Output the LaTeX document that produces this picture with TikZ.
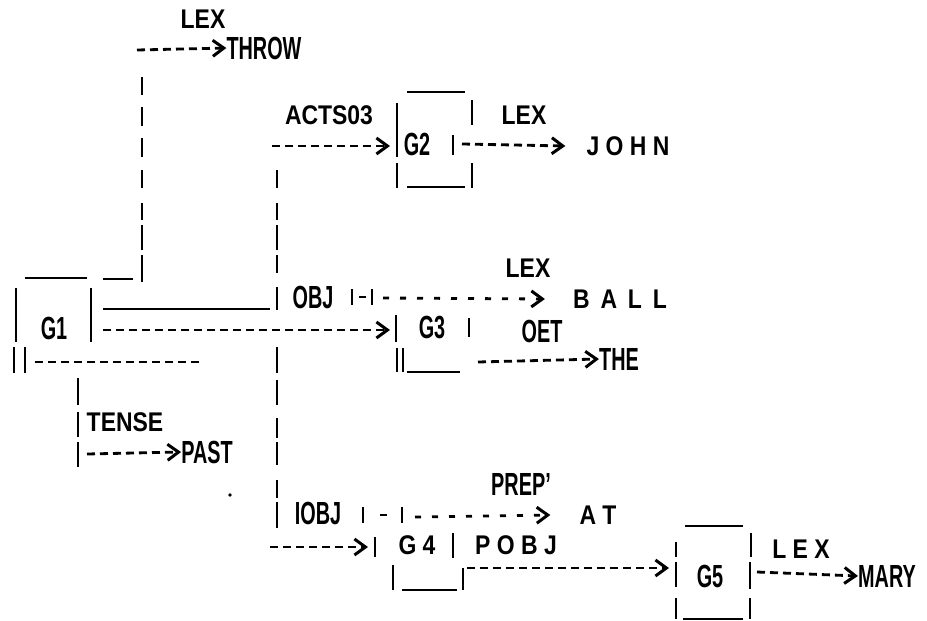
\documentclass[tikz,border=0pt]{standalone}
\usepackage{fontspec}
\setmainfont{Liberation Sans}
\newfontfamily\narrowfont[FakeStretch=0.62]{Liberation Sans Bold}
\newfontfamily\heavyfont[FakeStretch=0.85]{Liberation Sans Bold}
\usetikzlibrary{arrows.meta}

\begin{document}
\begin{tikzpicture}[x=1pt,y=-1pt,
    lbl/.style={inner sep=0pt,font=\fontsize{27}{27}\selectfont\heavyfont},
    nlbl/.style={inner sep=0pt,font=\fontsize{32}{32}\selectfont\narrowfont},
    bar/.style={line width=2.8pt},
    dashline/.style={line width=2.8pt,dash pattern=on 8pt off 5pt},
    gapline/.style={line width=2.8pt,dash pattern=on 6pt off 11pt},
    arr/.style={-{Straight Barb[length=11pt,width=16pt,line width=3pt]}}]
  \useasboundingbox (0,0) rectangle (927,621);

  % labels
  \node[lbl]  (lexA)   at (203,19)  {LEX};
  \node[nlbl] (throw)  at (264,48)  {THROW};
  \node[lbl]  (acts)   at (329,115) {ACTS03};
  \node[nlbl] (gtwo)   at (417,144) {G2};
  \node[lbl]  (lexB)   at (524,115) {LEX};
  \node[lbl]  (john)   at (628,146) {J O H N};
  \node[lbl]  (lexC)   at (528,268) {LEX};
  \node[nlbl] (obj)    at (313,297) {OBJ};
  \node[lbl]  (ball)   at (620,299) {B\, A\, L\, L};
  \node[nlbl] (gone)   at (54,328)  {G1};
  \node[nlbl] (gthree) at (432,328) {G3};
  \node[nlbl] (det)    at (542,331) {OET};
  \node[nlbl] (the)    at (619,359) {THE};
  \node[lbl]  (tense)  at (125,422) {TENSE};
  \node[nlbl] (past)   at (207,452) {PAST};
  \node[nlbl] (prep)   at (521,484) {PREP’};
  \node[nlbl] (iobj)   at (318,513) {IOBJ};
  \node[lbl]  (atw)    at (598,515) {A T};
  \node[lbl]  (gfour)  at (417,545) {G 4};
  \node[lbl]  (pobj)   at (516,545) {P O B J};
  \node[nlbl] (gfive)  at (710,576) {G5};
  \node[lbl]  (lexD)   at (801,549) {L E X};
  \node[nlbl] (mary)   at (887,576) {MARY};

  % G1 box
  \draw[bar] (25,278) -- (87,278);
  \draw[bar] (16,288) -- (16,342);
  \draw[bar] (91,288) -- (91,342);
  \draw[bar] (14,347) -- (14,373);
  \draw[bar] (25,347) -- (25,373);

  % G2 box
  \draw[bar] (407,92) -- (465,92);
  \draw[bar] (397,103) -- (397,157);
  \draw[bar] (397,163) -- (397,188);
  \draw[bar] (472,100) -- (472,125);
  \draw[bar] (472,163) -- (472,188);
  \draw[bar] (407,187) -- (465,187);
  \draw[bar] (453,135) -- (453,155);

  % G3 box
  \draw[bar] (396,315) -- (396,342);
  \draw[bar] (469,318) -- (469,337);
  \draw[bar] (397,348) -- (397,372);
  \draw[bar] (403,348) -- (403,372);
  \draw[bar] (407,372) -- (460,372);

  % G4 box
  \draw[bar] (375,537) -- (375,557);
  \draw[bar] (453,533) -- (453,558);
  \draw[bar] (393,565) -- (393,590);
  \draw[bar] (402,590) -- (457,590);
  \draw[bar] (463,568) -- (463,590);

  % G5 box
  \draw[bar] (685,526) -- (743,526);
  \draw[bar] (676,542) -- (676,557);
  \draw[bar] (676,562) -- (676,587);
  \draw[bar] (676,598) -- (676,619);
  \draw[bar] (751,533) -- (751,557);
  \draw[bar] (750,562) -- (750,589);
  \draw[bar] (750,598) -- (750,619);
  \draw[bar] (683,619) -- (743,619);

  % G1 up to THROW
  \draw[bar] (103,279) -- (133,279);
  \foreach \a/\b in {77/95,107/126,138/157,170/188,203/220,225/250,255/282}
    \draw[bar] (142,\a) -- (142,\b);
  \draw[dashline,arr] (137,50) -- (throw.west);

  % OBJ and IOBJ column
  \draw[bar] (103,309) -- (270,309);
  \foreach \a/\b in {170/188,203/220,225/250,255/273,287/310,347/373,380/405,418/438,442/465,480/498,502/528}
    \draw[bar] (277,\a) -- (277,\b);
  \draw[dashline,arr] (272,146) -- (390,146);
  \draw[dashline,arr] (462,144) -- ([xshift=-21pt]john.west);

  \draw[bar] (352,289) -- (352,305);
  \draw[bar] (359,297) -- (366,297);
  \draw[bar] (372,289) -- (372,305);
  \draw[gapline,arr] (383,298) -- ([xshift=-28pt]ball.west);

  \draw[dashline,arr] (103,330) -- (390,330);
  \draw[dashline,arr] (478,362) -- (the.west);

  % TENSE
  \draw[dashline] (35,362) -- (200,362);
  \foreach \a/\b in {378/405,412/437,442/467}
    \draw[bar] (78,\a) -- (78,\b);
  \draw[dashline,arr] (87,454) -- (past.west);

  % IOBJ
  \draw[bar] (363,507) -- (363,523);
  \draw[bar] (380,515) -- (387,515);
  \draw[bar] (402,507) -- (402,523);
  \draw[gapline,arr] (415,517) -- ([xshift=-29pt]atw.west);
  \draw[dashline,arr] (270,547) -- (368,547);
  \draw[dashline,arr] (467,568) -- (669,568);
  \draw[dashline,arr] (757,572) -- (mary.west);

  \fill (230,495) circle (1.8pt);
\end{tikzpicture}
\end{document}
